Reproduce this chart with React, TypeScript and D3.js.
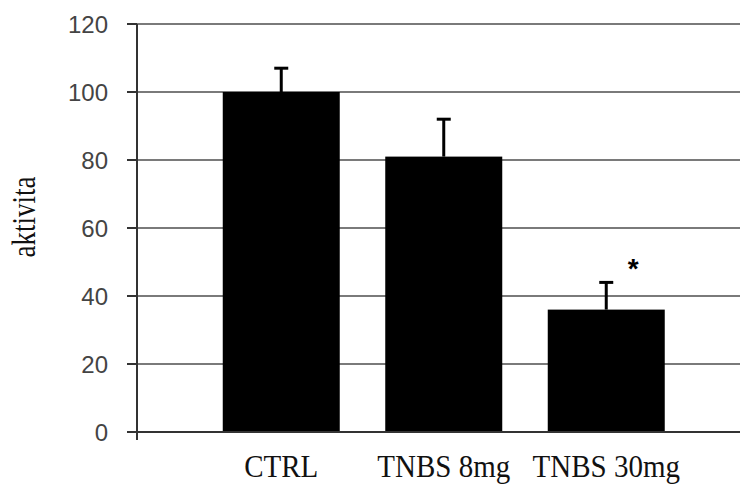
import { useEffect, useRef } from "react";
import * as d3 from "d3";

const categories = ["CTRL", "TNBS 8mg", "TNBS 30mg"];
const means = [100, 81, 36];
const errors = [7, 11, 8];
const marks = ["", "", "*"];
const yTicks = [0, 20, 40, 60, 80, 100, 120];

const W = 741;
const H = 484;

export default function App() {
  const ref = useRef<SVGSVGElement>(null);

  useEffect(() => {
    const svg = d3.select(ref.current);
    svg.selectAll("*").remove();

    const y = d3.scaleLinear().domain([0, 120]).range([432, 24]);
    const x = d3.scaleBand<string>()
      .domain(categories)
      .range([200, 687.5])
      .paddingInner(0.28)
      .paddingOuter(0.14);

    const axisX = 137;

    // gridlines
    svg.append("g")
      .selectAll("line")
      .data(yTicks.filter(d => d > 0))
      .join("line")
      .attr("x1", axisX)
      .attr("x2", 740)
      .attr("y1", d => y(d))
      .attr("y2", d => y(d))
      .attr("stroke", "#7a7a7a")
      .attr("stroke-width", 2);

    // bars
    const data = categories.map((c, i) => ({ c, v: means[i], e: errors[i], m: marks[i] }));
    svg.append("g")
      .selectAll("rect")
      .data(data)
      .join("rect")
      .attr("x", d => x(d.c)!)
      .attr("width", x.bandwidth())
      .attr("y", d => y(d.v))
      .attr("height", d => y(0) - y(d.v))
      .attr("fill", "#000");

    // error bars (upper only)
    const eb = svg.append("g").selectAll("g").data(data).join("g");
    eb.append("line")
      .attr("x1", d => x(d.c)! + x.bandwidth() / 2)
      .attr("x2", d => x(d.c)! + x.bandwidth() / 2)
      .attr("y1", d => y(d.v))
      .attr("y2", d => y(d.v + d.e))
      .attr("stroke", "#000")
      .attr("stroke-width", 3);
    eb.append("line")
      .attr("x1", d => x(d.c)! + x.bandwidth() / 2 - 7)
      .attr("x2", d => x(d.c)! + x.bandwidth() / 2 + 7)
      .attr("y1", d => y(d.v + d.e))
      .attr("y2", d => y(d.v + d.e))
      .attr("stroke", "#000")
      .attr("stroke-width", 3);

    // significance marks
    svg.append("g")
      .selectAll("text")
      .data(data.filter(d => d.m))
      .join("text")
      .attr("x", d => x(d.c)! + x.bandwidth() / 2 + 27)
      .attr("y", d => y(d.v + d.e) - 4)
      .attr("text-anchor", "middle")
      .attr("font-family", "Liberation Sans, Arial, sans-serif")
      .attr("font-weight", "bold")
      .attr("font-size", 28)
      .text(d => d.m);

    // y axis
    const yAxis = svg.append("g");
    yAxis.append("line")
      .attr("x1", axisX).attr("x2", axisX)
      .attr("y1", y(120)).attr("y2", y(0) + 8)
      .attr("stroke", "#333").attr("stroke-width", 2);
    yAxis.selectAll("line.tick")
      .data(yTicks)
      .join("line")
      .attr("class", "tick")
      .attr("x1", 127).attr("x2", axisX)
      .attr("y1", d => y(d)).attr("y2", d => y(d))
      .attr("stroke", "#333").attr("stroke-width", 2);
    yAxis.selectAll("text")
      .data(yTicks)
      .join("text")
      .attr("x", 108)
      .attr("y", d => y(d))
      .attr("dy", "0.36em")
      .attr("text-anchor", "end")
      .attr("font-family", "Liberation Sans, Arial, sans-serif")
      .attr("font-size", 24)
      .attr("fill", "#444")
      .text(d => d);

    // x axis line
    svg.append("line")
      .attr("x1", axisX).attr("x2", 740)
      .attr("y1", y(0)).attr("y2", y(0))
      .attr("stroke", "#333").attr("stroke-width", 2);

    // x labels
    svg.append("g")
      .selectAll("text")
      .data(categories)
      .join("text")
      .attr("transform", d => `translate(${x(d)! + x.bandwidth() / 2},477) scale(1,1.1)`)
      .attr("text-anchor", "middle")
      .attr("font-family", "Liberation Serif, Times New Roman, serif")
      .attr("font-size", 29)
      .attr("fill", "#111")
      .text(d => d);

    // y label
    svg.append("text")
      .attr("transform", "translate(35,217) rotate(-90) scale(1,1.25)")
      .attr("text-anchor", "middle")
      .attr("font-family", "Liberation Serif, Times New Roman, serif")
      .attr("font-size", 27)
      .attr("fill", "#111")
      .text("aktivita");
  }, []);

  return (
    <svg
      ref={ref}
      width={W}
      height={H}
      style={{ position: "absolute", left: 0, top: 0, background: "#fff" }}
    />
  );
}
